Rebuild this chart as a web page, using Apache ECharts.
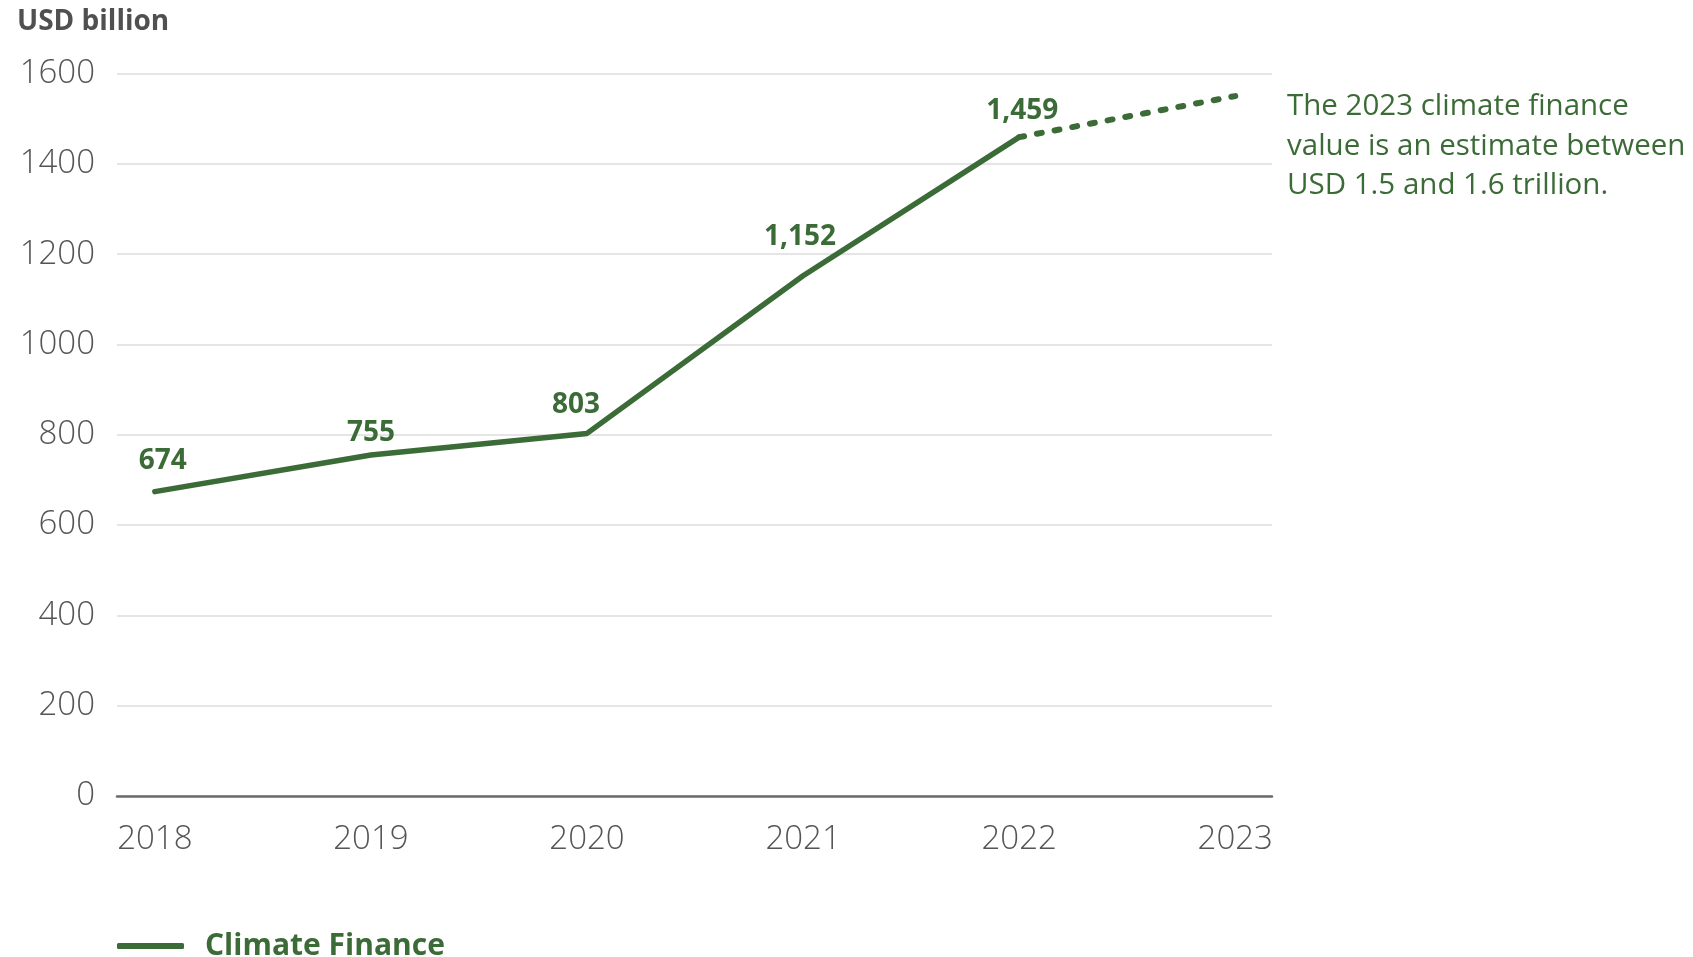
<!DOCTYPE html>
<html>
<head>
<meta charset="utf-8">
<script src="https://cdn.jsdelivr.net/npm/echarts@6/dist/echarts.min.js"></script>
<style>
  html, body { margin: 0; padding: 0; background: #fff; }
  #chart { width: 1693px; height: 957px; }
</style>
</head>
<body>
<div id="chart"></div>
<script>
// Climate finance flows, USD billion
const years = [2018, 2019, 2020, 2021, 2022, 2023];
const climateFinance = [674, 755, 803, 1152, 1459];   // reported
const estimate2023 = 1550;                             // 2023 estimate (USD 1.5-1.6 trillion)
const yTicks = [0, 200, 400, 600, 800, 1000, 1200, 1400, 1600];
const noteLines = ['The 2023 climate finance', 'value is an estimate between', 'USD 1.5 and 1.6 trillion.'];

// small per-label nudges [dx, dy] so value labels clear the line
const labelNudge = [[8, 0], [0, 8], [-11, 2], [-3, -8], [3, 4]];

const GREEN = '#3b6b36';
const FONT = '"Open Sans", "Noto Sans", sans-serif';

const solidData = climateFinance.map((v, i) => ({
  value: [years[i], v],
  label: { offset: labelNudge[i] }
}));
const dashedData = [[years[4], climateFinance[4]], [years[5], estimate2023]];

const fmtThousands = v => v.toLocaleString('en-US');

const chart = echarts.init(document.getElementById('chart'));
chart.setOption({
  animation: false,
  textStyle: { fontFamily: FONT },
  grid: { left: 117, right: 421, top: 73.5, bottom: 161, containLabel: false },
  xAxis: {
    type: 'value',
    min: 2017.825,
    max: 2023.17,
    axisLine: { show: true, lineStyle: { color: '#6b6b6b', width: 2.5 } },
    axisTick: { show: false },
    splitLine: { show: false },
    axisLabel: {
      customValues: years,
      formatter: v => String(v),
      color: '#555',
      fontSize: 33,
      fontWeight: 300,
      fontFamily: FONT,
      margin: 27
    }
  },
  yAxis: {
    type: 'value',
    min: 0,
    max: 1600,
    interval: 200,
    axisLine: { show: false },
    axisTick: { show: false },
    splitLine: { lineStyle: { color: '#dcdcdc', width: 1.5 } },
    axisLabel: {
      customValues: yTicks,
      formatter: v => String(v),
      color: '#555',
      fontSize: 33,
      fontWeight: 300,
      fontFamily: FONT,
      margin: 22
    }
  },
  legend: {
    show: true,
    left: 112,
    top: 926,
    itemWidth: 67,
    itemHeight: 6,
    itemGap: 20,
    icon: 'roundRect',
    data: ['Climate Finance'],
    textStyle: { color: GREEN, fontSize: 30, fontWeight: 'bold', fontFamily: FONT, padding: [0, 0, 0, 16] }
  },
  graphic: [
    {
      type: 'text',
      left: 17,
      top: 8,
      style: { text: 'USD billion', fill: '#505050', font: 'bold 28px ' + FONT }
    },
    {
      type: 'text',
      left: 1287,
      top: 87,
      style: {
        text: noteLines.join('\n'),
        fill: GREEN,
        font: '29.5px ' + FONT,
        lineHeight: 39.5
      }
    }
  ],
  series: [
    {
      name: 'Climate Finance',
      type: 'line',
      data: solidData,
      symbol: 'circle',
      symbolSize: 1,
      showSymbol: true,
      lineStyle: { color: GREEN, width: 5.5, cap: 'round', join: 'round' },
      itemStyle: { color: GREEN },
      label: {
        show: true,
        position: 'top',
        distance: 16,
        color: GREEN,
        fontSize: 28,
        fontWeight: 'bold',
        fontFamily: FONT,
        formatter: p => fmtThousands(p.value[1])
      }
    },
    {
      name: '2023 estimate',
      type: 'line',
      data: dashedData,
      symbol: 'none',
      lineStyle: { color: GREEN, width: 6, type: [5, 13], cap: 'round' },
      itemStyle: { color: GREEN },
      label: { show: false }
    }
  ]
});
</script>
</body>
</html>
